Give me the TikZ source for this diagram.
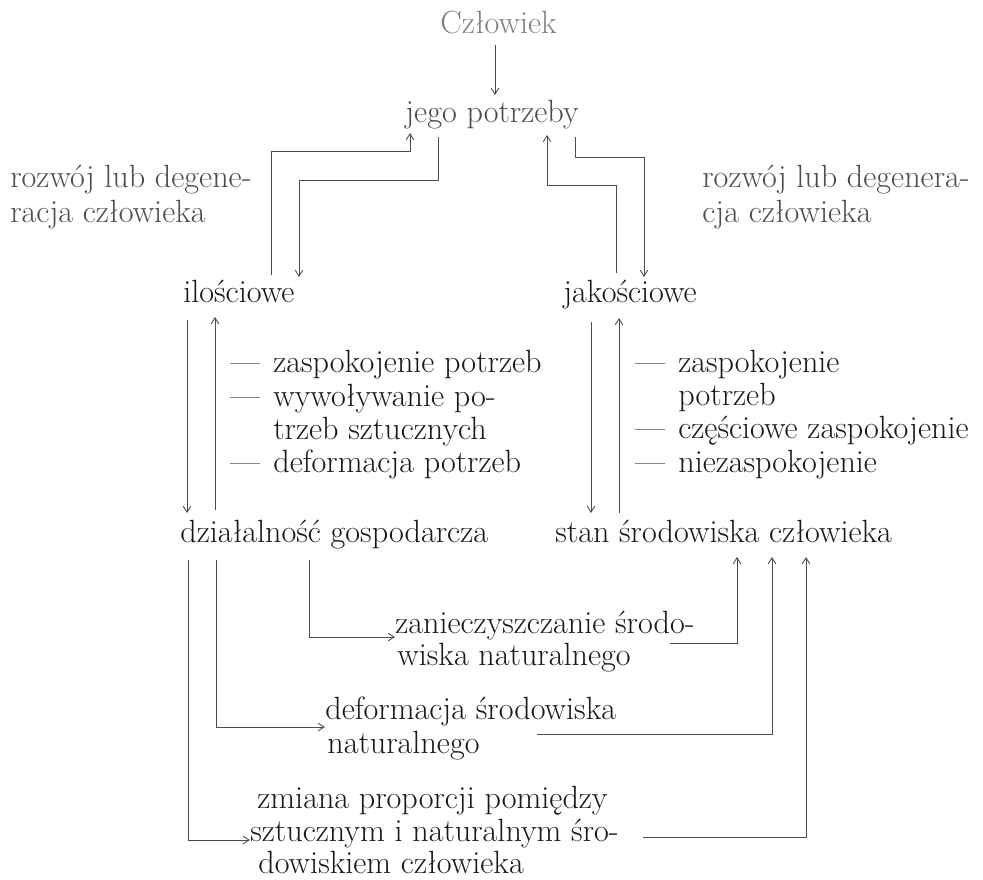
\documentclass[tikz,border=0pt]{standalone}
\usepackage{fontspec}
\usepackage{tikz}
\usetikzlibrary{arrows.meta}
\definecolor{InkFaint}{gray}{0.5}
\definecolor{InkMid}{gray}{0.3}
\definecolor{InkDark}{gray}{0.1}
\definecolor{LineGray}{gray}{0.3}
\newcommand{\pauza}{\makebox[0.86cm][l]{—}}

\begin{document}
\begin{tikzpicture}[x=0.02cm,y=-0.02cm,
    txt/.style={anchor=base west,inner sep=0pt,
                font=\fontsize{18.3}{21}\selectfont,text=InkDark},
    faint/.style={text=InkFaint},
    mid/.style={text=InkMid},
    ln/.style={LineGray,line width=0.5pt},
    arr/.style={ln,-{Straight Barb[length=1.2mm,width=1.5mm]}}
  ]
  \useasboundingbox[fill=white] (0,0) rectangle (983,879);

  % top
  \node[txt,faint] (czlowiek) at (440,33) {Człowiek};
  \node[txt,mid] (potrzeby) at (405,122) {jego potrzeby};
  \node[txt,mid] (rozwojL1) at (10,187) {rozwój lub degene-};
  \node[txt,mid] (rozwojL2) at (10,222) {racja człowieka};
  \node[txt,mid] (rozwojR1) at (702,187) {rozwój lub degenera-};
  \node[txt,mid] (rozwojR2) at (702,222) {cja człowieka};
  \node[txt] (ilosc) at (183,302) {ilościowe};
  \node[txt] (jakosc) at (563,302) {jakościowe};

  % middle lists
  \node[txt] (iloA) at (230,372) {\pauza zaspokojenie potrzeb};
  \node[txt] (iloB) at (230,406) {\pauza wywoływanie po-};
  \node[txt] (iloC) at (273,439) {trzeb sztucznych};
  \node[txt] (iloD) at (230,472) {\pauza deformacja potrzeb};
  \node[txt] (jakA) at (635,372) {\pauza zaspokojenie};
  \node[txt] (jakB) at (678,405) {potrzeb};
  \node[txt] (jakC) at (635,438) {\pauza częściowe zaspokojenie};
  \node[txt] (jakD) at (635,472) {\pauza niezaspokojenie};

  \node[txt] (dzial) at (180,542) {działalność gospodarcza};
  \node[txt] (stan) at (555,542) {stan środowiska człowieka};

  % bottom
  \node[txt] (zanie1) at (395,633) {zanieczyszczanie środo-};
  \node[txt] (zanie2) at (397,665) {wiska naturalnego};
  \node[txt] (deform1) at (325,719) {deformacja środowiska};
  \node[txt] (deform2) at (327,753) {naturalnego};
  \node[txt] (zmiana1) at (257,808) {zmiana proporcji pomiędzy};
  \node[txt] (zmiana2) at (250,841) {sztucznym i naturalnym śro-};
  \node[txt] (zmiana3) at (258,873) {dowiskiem człowieka};

  % connector ends
  \coordinate (czlOut) at (495,45);
  \coordinate (potIn) at (495,95);
  \coordinate (potIn1) at (410,133);
  \coordinate (potOut1) at (438,137);
  \coordinate (potIn2) at (547,135);
  \coordinate (potOut2) at (575,137);
  \coordinate (iloOut) at (271,275);
  \coordinate (iloIn) at (299,277);
  \coordinate (jakOut) at (616,273);
  \coordinate (jakIn) at (644,277);
  \coordinate (iloDown) at (187,320);
  \coordinate (iloUp) at (215,317);
  \coordinate (jakDown) at (591,322);
  \coordinate (jakUp) at (619,318);
  \coordinate (dzialIn) at (187,513);
  \coordinate (dzialUp) at (215,510);
  \coordinate (stanIn) at (591,513);
  \coordinate (stanUp) at (619,513);
  \coordinate (dzialOut1) at (188,560);
  \coordinate (dzialOut2) at (216,560);
  \coordinate (dzialOut3) at (309,560);
  \coordinate (zanieIn) at (395,637);
  \coordinate (deformIn) at (325,727);
  \coordinate (zmianaIn) at (250,840);
  \coordinate (zanieOut) at (670,643);
  \coordinate (deformOut) at (537,734);
  \coordinate (zmianaOut) at (643,837);
  \coordinate (stanIn1) at (737,557);
  \coordinate (stanIn2) at (772,557);
  \coordinate (stanIn3) at (806,557);

  \draw[arr] (czlOut) -- (potIn);
  \draw[arr] (iloOut) -- ++(0,-124) -| (potIn1);
  \draw[arr] (potOut1) -- ++(0,43) -| (iloIn);
  \draw[arr] (jakOut) -- ++(0,-88) -| (potIn2);
  \draw[arr] (potOut2) -- ++(0,20) -| (jakIn);

  \draw[arr] (iloDown) -- (dzialIn);
  \draw[arr] (dzialUp) -- (iloUp);
  \draw[arr] (jakDown) -- (stanIn);
  \draw[arr] (stanUp) -- (jakUp);

  \draw[arr] (dzialOut3) |- (zanieIn);
  \draw[arr] (dzialOut2) |- (deformIn);
  \draw[arr] (dzialOut1) |- (zmianaIn);
  \draw[arr] (zanieOut) -| (stanIn1);
  \draw[arr] (deformOut) -| (stanIn2);
  \draw[arr] (zmianaOut) -| (stanIn3);
\end{tikzpicture}
\end{document}
